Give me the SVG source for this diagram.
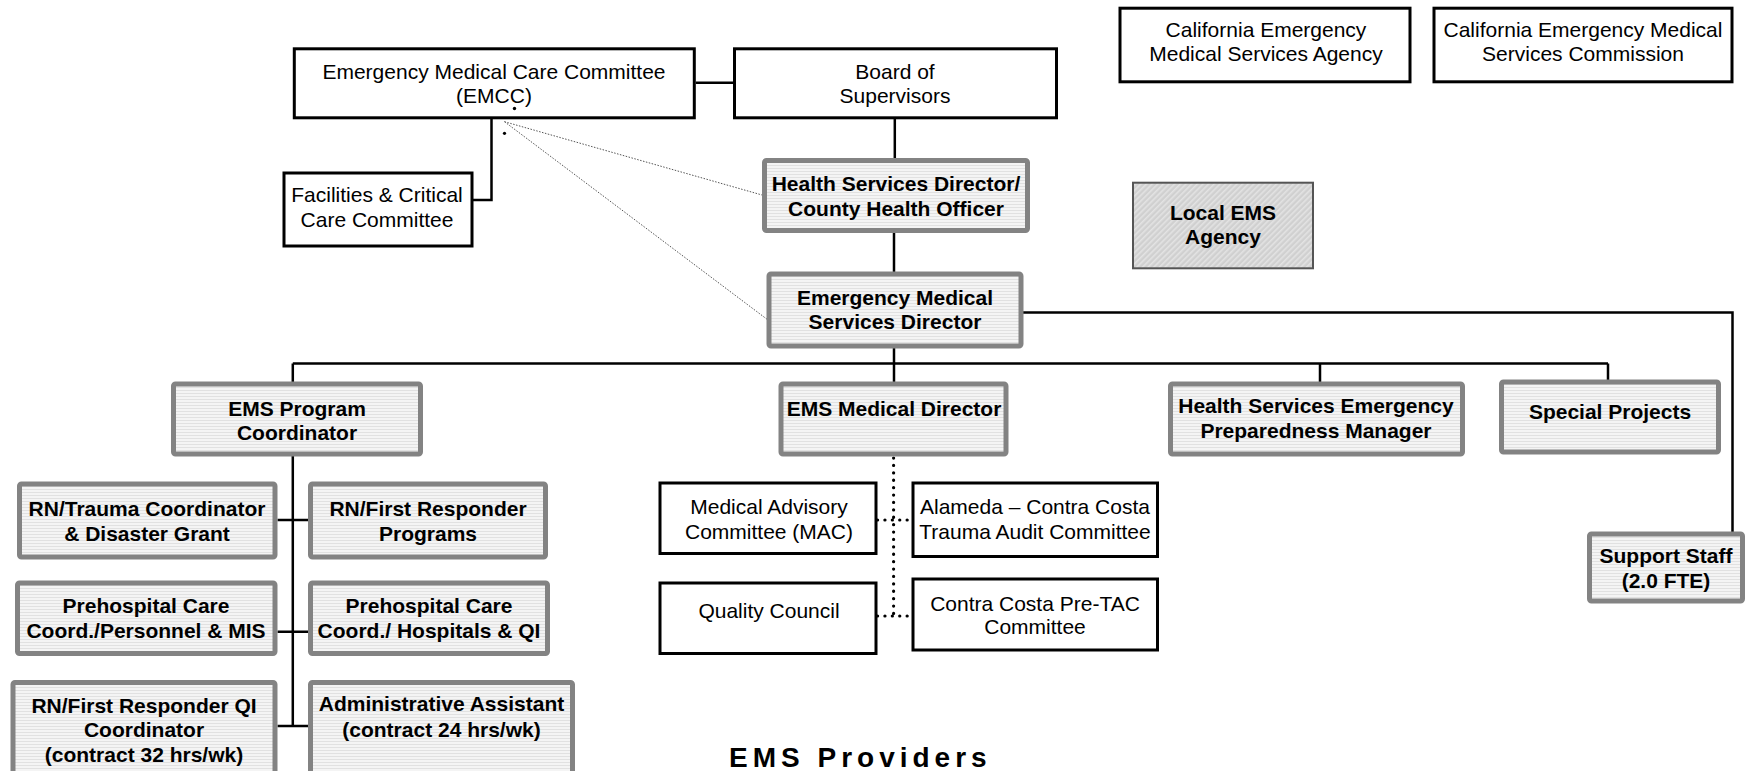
<svg xmlns="http://www.w3.org/2000/svg" width="1745" height="771" viewBox="0 0 1745 771">
<defs>
<pattern id="stripes" width="4" height="3" patternUnits="userSpaceOnUse"><rect width="4" height="3" fill="#f4f4f4"/><rect width="4" height="1" fill="#e1e1e1"/></pattern>
<pattern id="hatch" width="4" height="4" patternUnits="userSpaceOnUse" patternTransform="rotate(45)"><rect width="4" height="4" fill="#d0d0d0"/><rect width="1.6" height="4" fill="#e3e3e3"/></pattern>
</defs>
<style>
text{font-family:"Liberation Sans",Arial,sans-serif;font-size:21px;text-anchor:middle;fill:#000}
.b{font-weight:bold}
.gb{fill:url(#stripes);stroke:#838383;stroke-width:5}
.bb{fill:#fff;stroke:#000;stroke-width:3}
.ln{fill:none;stroke:#000;stroke-width:2.5}
.dl{fill:none;stroke:#555;stroke-width:1;stroke-dasharray:1.5 1.5}
.dt{fill:none;stroke:#000;stroke-width:3.2;stroke-linecap:round;stroke-dasharray:0.1 7.3}
.prov{font-size:28px;font-weight:bold;letter-spacing:5px;text-anchor:start}
</style>
<rect width="1745" height="771" fill="#fff"/>
<g id="connectors">
<path class="ln" d="M695.8 82.7H733"/>
<path class="ln" d="M491.5 119V200H472"/>
<path class="ln" d="M894.8 119V158"/>
<path class="ln" d="M894 233V272"/>
<path class="ln" d="M1023 312.5H1732.5V532"/>
<path class="ln" d="M894 348V382"/>
<path class="ln" d="M292.8 363.5H1608"/>
<path class="ln" d="M292.8 363.5V382M1320 363.5V382M1608 363.5V380"/>
<path class="ln" d="M292.8 456V726.5"/>
<path class="ln" d="M277.5 520H308M277.5 631.7H308M277.5 726H308"/>
<path class="dl" d="M504.5 121.7L762 195M504.5 121.7L768 320"/>
<path class="dt" d="M893.6 458V616M877.5 520H911.5M877.5 616H911.5"/>
</g>
<g id="emcc"><rect class="bb" x="294.3" y="48.8" width="400" height="69"/><text x="494" y="78.5">Emergency Medical Care Committee</text><text x="494" y="103">(EMCC)</text></g>
<g id="board"><rect class="bb" x="734.5" y="48.8" width="322" height="69"/><text x="895" y="79">Board of</text><text x="895" y="103">Supervisors</text></g>
<g id="ca-agency"><rect class="bb" x="1120" y="8.2" width="290" height="73.6"/><text x="1266" y="37">California Emergency</text><text x="1266" y="61">Medical Services Agency</text></g>
<g id="ca-commission"><rect class="bb" x="1434" y="8.2" width="298" height="73.6"/><text x="1583" y="37">California Emergency Medical</text><text x="1583" y="61">Services Commission</text></g>
<g id="facilities"><rect class="bb" x="284" y="173" width="188" height="73"/><text x="377" y="202">Facilities &amp; Critical</text><text x="377" y="227">Care Committee</text></g>
<g id="marks"><circle cx="514.5" cy="108.5" r="1.7" fill="#000"/><circle cx="504.5" cy="133.3" r="1.6" fill="#000"/></g>
<g id="hsd"><rect class="gb" x="764.5" y="160.5" width="263" height="70" rx="2"/><text class="b" x="896" y="191">Health Services Director/</text><text class="b" x="896" y="216">County Health Officer</text></g>
<g id="local-ems"><rect x="1133" y="182.7" width="180" height="85.6" fill="url(#hatch)" stroke="#555" stroke-width="2"/><text class="b" x="1223" y="220">Local EMS</text><text class="b" x="1223" y="244">Agency</text></g>
<g id="emsd"><rect class="gb" x="769" y="274" width="252" height="72" rx="2"/><text class="b" x="895" y="305">Emergency Medical</text><text class="b" x="895" y="329">Services Director</text></g>
<g id="ems-prog"><rect class="gb" x="173.5" y="384" width="247" height="70" rx="2"/><text class="b" x="297" y="416">EMS Program</text><text class="b" x="297" y="440">Coordinator</text></g>
<g id="ems-med"><rect class="gb" x="781" y="384" width="225" height="70" rx="2"/><text class="b" x="894" y="416">EMS Medical Director</text></g>
<g id="hsepm"><rect class="gb" x="1170.5" y="384" width="292" height="70" rx="2"/><text class="b" x="1316" y="412.5">Health Services Emergency</text><text class="b" x="1316" y="437.5">Preparedness Manager</text></g>
<g id="special"><rect class="gb" x="1501.5" y="382" width="217" height="70" rx="2"/><text class="b" x="1610" y="419">Special Projects</text></g>
<g id="support"><rect class="gb" x="1589.5" y="534" width="153" height="67" rx="2"/><text class="b" x="1666" y="562.5">Support Staff</text><text class="b" x="1666" y="587.5">(2.0 FTE)</text></g>
<g id="rn-trauma"><rect class="gb" x="19.5" y="484" width="255.5" height="73" rx="2"/><text class="b" x="147" y="516">RN/Trauma Coordinator</text><text class="b" x="147" y="541">&amp; Disaster Grant</text></g>
<g id="rn-fr"><rect class="gb" x="310.5" y="484" width="235" height="73" rx="2"/><text class="b" x="428" y="516">RN/First Responder</text><text class="b" x="428" y="541">Programs</text></g>
<g id="prehosp-pers"><rect class="gb" x="17.5" y="583" width="257.5" height="70.5" rx="2"/><text class="b" x="146" y="612.5">Prehospital Care</text><text class="b" x="146" y="637.5">Coord./Personnel &amp; MIS</text></g>
<g id="prehosp-hosp"><rect class="gb" x="310.5" y="583" width="237" height="70.5" rx="2"/><text class="b" x="429" y="612.5">Prehospital Care</text><text class="b" x="429" y="637.5">Coord./ Hospitals &amp; QI</text></g>
<g id="rn-fr-qi"><rect class="gb" x="13" y="682.5" width="262" height="100" rx="2"/><text class="b" x="144" y="712.5">RN/First Responder QI</text><text class="b" x="144" y="737">Coordinator</text><text class="b" x="144" y="761.5">(contract 32 hrs/wk)</text></g>
<g id="admin"><rect class="gb" x="310.5" y="682.5" width="262" height="100" rx="2"/><text class="b" x="441.5" y="711">Administrative Assistant</text><text class="b" x="441.5" y="737">(contract 24 hrs/wk)</text></g>
<g id="mac"><rect class="bb" x="660" y="483" width="216" height="70.5"/><text x="769" y="514">Medical Advisory</text><text x="769" y="539">Committee (MAC)</text></g>
<g id="alameda"><rect class="bb" x="913" y="483" width="244.5" height="73.5"/><text x="1035" y="514">Alameda – Contra Costa</text><text x="1035" y="539">Trauma Audit Committee</text></g>
<g id="qc"><rect class="bb" x="660" y="583" width="216" height="70.5"/><text x="769" y="617.5">Quality Council</text></g>
<g id="pretac"><rect class="bb" x="913" y="579" width="244.5" height="71"/><text x="1035" y="611">Contra Costa Pre-TAC</text><text x="1035" y="634">Committee</text></g>
<text class="prov" x="729" y="767">EMS Providers</text>
</svg>
